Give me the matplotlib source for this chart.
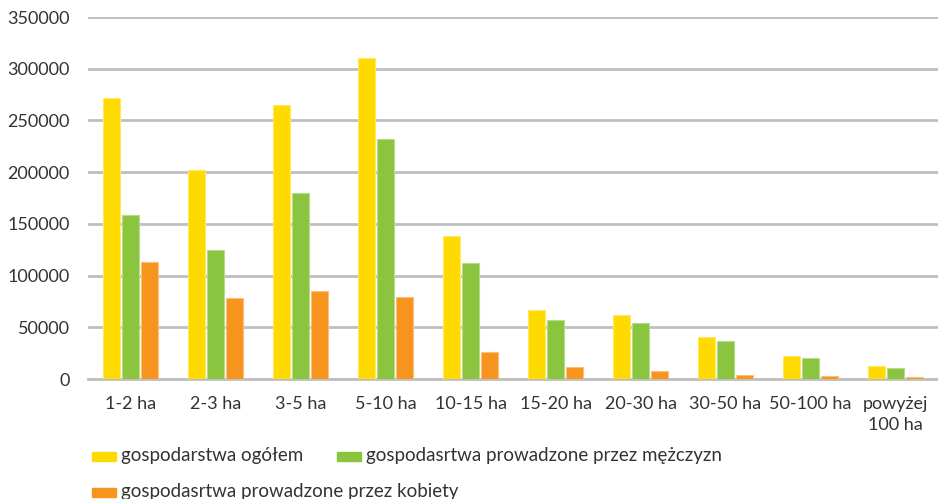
import matplotlib
matplotlib.use("Agg")
import matplotlib.pyplot as plt
import numpy as np
from matplotlib.patches import Rectangle

categories = ["1-2 ha", "2-3 ha", "3-5 ha", "5-10 ha", "10-15 ha", "15-20 ha",
              "20-30 ha", "30-50 ha", "50-100 ha", "powyżej\n100 ha"]
ogolem = [272000, 202000, 265000, 310000, 138000, 67000, 61600, 40500, 22600, 12300]
mezczyzni = [159000, 124500, 180000, 232000, 112000, 57000, 54300, 36600, 20300, 11000]
kobiety = [113000, 78300, 85200, 79300, 26100, 11300, 7400, 3700, 2600, 1500]
series_names = ["gospodarstwa ogółem", "gospodasrtwa prowadzone przez mężczyzn",
                "gospodasrtwa prowadzone przez kobiety"]
yticks = [0, 50000, 100000, 150000, 200000, 250000, 300000, 350000]

colors = ["#FFDA00", "#8BC43F", "#F7941D"]
edges = ["#FFE866", "#B5DC8A", "#FBBF7A"]
txt = "#333333"

plt.rcParams['font.family'] = ['Lato', 'DejaVu Sans']
fig = plt.figure(figsize=(9.38, 4.99), dpi=100)
ax = fig.add_axes([88/938, (499-379)/499, 850/938, (379-17)/499])

x = np.arange(len(categories))
w = 0.2
off = 0.222
for i, (vals, c, e) in enumerate(zip([ogolem, mezczyzni, kobiety], colors, edges)):
    ax.bar(x + (i-1)*off, vals, width=w, color=c, edgecolor=e, linewidth=0.8, zorder=3)

ax.set_xlim(-0.5, len(categories)-0.5)
ax.set_ylim(0, 350000)
ax.set_yticks(yticks)
ax.set_yticklabels([str(v) for v in yticks], fontsize=13, color=txt)
ax.set_xticks(x)
ax.set_xticklabels(categories, fontsize=13, color=txt, linespacing=1.4)
ax.yaxis.grid(True, color="#BFBFBF", linewidth=2, zorder=0)
ax.set_axisbelow(True)
for s in ["top", "right", "left"]:
    ax.spines[s].set_visible(False)
ax.spines["bottom"].set_color("#BFBFBF")
ax.spines["bottom"].set_linewidth(2)
ax.tick_params(axis='both', length=0)
ax.tick_params(axis='y', pad=13)
ax.tick_params(axis='x', pad=12)

# legend
pos = [(92, 456), (337, 456), (92, 492)]
for (px, py), name, c in zip(pos, series_names, colors):
    fig.patches.append(Rectangle((px/938, 1-(py+4.5)/499), 24/938, 9/499,
                                 transform=fig.transFigure, color=c, figure=fig))
    fig.text((px+29)/938, 1-py/499, name, fontsize=13.5, color=txt,
             va='center', ha='left')

fig.savefig("out.png", dpi=100)
